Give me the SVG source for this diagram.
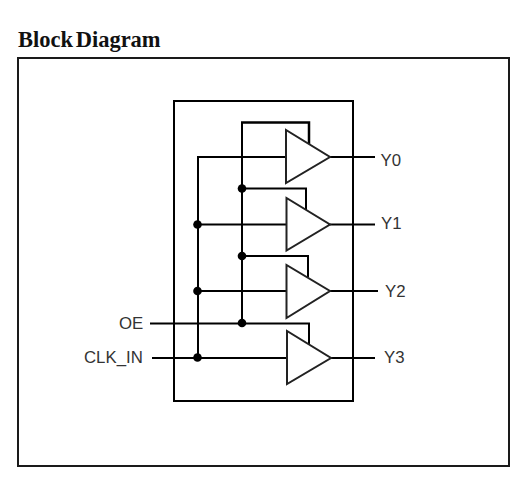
<svg xmlns="http://www.w3.org/2000/svg" width="524" height="486" viewBox="0 0 524 486">
<style>
.box{fill:none;stroke:#000;stroke-width:2}
.outer{fill:none;stroke:#1a1a1a;stroke-width:2}
.w{fill:none;stroke:#000;stroke-width:2}
.w3{fill:none;stroke:#000;stroke-width:2.500}
.buf{fill:#fff;stroke:#222;stroke-width:2}
.dot{fill:#000}
.lbl{font-family:"Liberation Sans",Arial,sans-serif;font-size:16.800px;fill:#333}
.title{font-family:"Liberation Serif","Times New Roman",serif;font-size:22.500px;font-weight:bold;fill:#111;word-spacing:-3px}
</style>
<rect width="524" height="486" fill="#fff"/>
<text class="title" x="18" y="47">Block Diagram</text>
<rect class="outer" x="18" y="58" width="491" height="408"/>
<rect id="chip" class="box" x="174" y="101" width="179" height="300"/>
<g id="connectors">
<path class="w" d="M242 323V123"/>
<path class="w3" d="M241 122.500H309V145"/>
<path class="w" d="M242 188.500H306V210"/>
<path class="w" d="M242 256H308V277"/>
<path class="w" d="M150 323.500H309V344"/>
<path class="w" d="M287 157H198V358"/>
<path class="w" d="M198 224.500H287"/>
<path class="w" d="M198 291H287"/>
<path class="w" d="M152 358H287"/>
<path class="w" d="M330 157H375"/>
<path class="w" d="M330 224.500H375"/>
<path class="w" d="M330 291H378"/>
<path class="w" d="M331 358H375"/>
<circle class="dot" cx="242" cy="188.500" r="4.300"/>
<circle class="dot" cx="242" cy="256" r="4.300"/>
<circle class="dot" cx="242" cy="323" r="4.300"/>
<circle class="dot" cx="197.500" cy="224.500" r="4.300"/>
<circle class="dot" cx="197.500" cy="291" r="4.300"/>
<circle class="dot" cx="197.500" cy="357.500" r="4.300"/>
</g>
<g id="buf0"><path class="buf" d="M286 130V183L330 157Z"/></g>
<g id="buf1"><path class="buf" d="M286.500 198V250.500L330 224.500Z"/></g>
<g id="buf2"><path class="buf" d="M286.500 265V318L330 291Z"/></g>
<g id="buf3"><path class="buf" d="M287 331V384L331 358Z"/></g>
<g id="labels">
<text class="lbl" x="380.500" y="166">Y0</text>
<text class="lbl" x="381" y="229">Y1</text>
<text class="lbl" x="385" y="297">Y2</text>
<text class="lbl" x="384" y="363">Y3</text>
<text class="lbl" x="119" y="329">OE</text>
<text class="lbl" x="84" y="363">CLK_IN</text>
</g>
</svg>
